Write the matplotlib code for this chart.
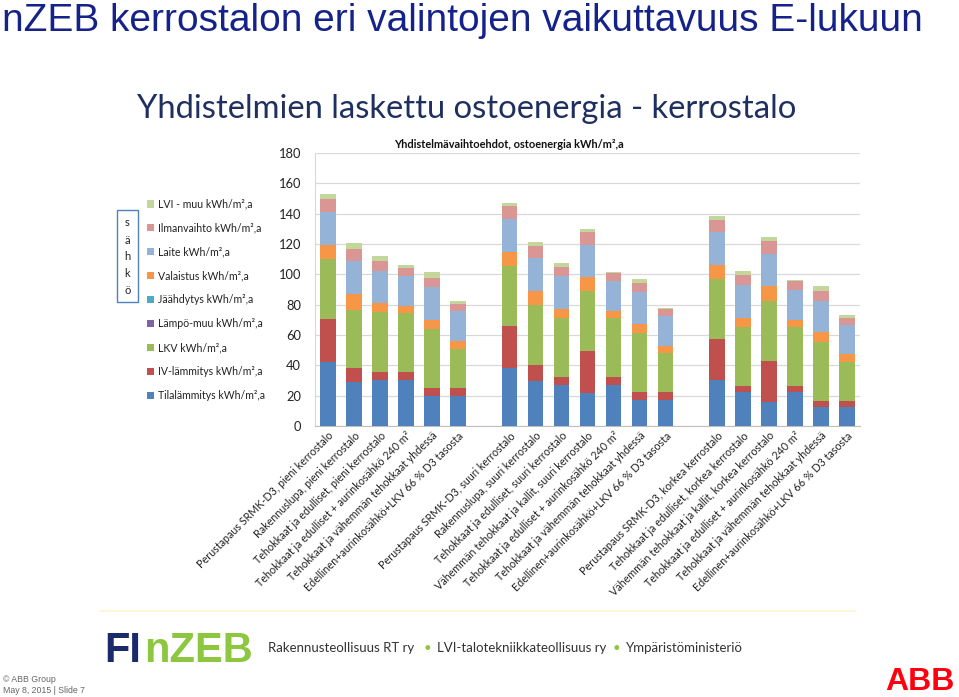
import matplotlib
matplotlib.use("Agg")
import matplotlib.pyplot as plt
import numpy as np
from matplotlib.patches import Rectangle

# --- data (kWh/m2,a), 21 category slots, blank slots separate the three groups
categories = [
    "Perustapaus SRMK-D3, pieni kerrostalo",
    "Rakennuslupa, pieni kerrostalo",
    "Tehokkaat ja edulliset, pieni kerrostalo",
    "Tehokkaat ja edulliset + aurinkosähkö 240 m²",
    "Tehokkaat ja vähemmän tehokkaat yhdessä",
    "Edellinen+aurinkosähkö+LKV 66 % D3 tasosta",
    "",
    "Perustapaus SRMK-D3, suuri kerrostalo",
    "Rakennuslupa, suuri kerrostalo",
    "Tehokkaat ja edulliset, suuri kerrostalo",
    "Vähemmän tehokkaat ja kallit, suuri kerrostalo",
    "Tehokkaat ja edulliset + aurinkosähkö 240 m²",
    "Tehokkaat ja vähemmän tehokkaat yhdessä",
    "Edellinen+aurinkosähkö+LKV 66 % D3 tasosta",
    "",
    "Perustapaus SRMK-D3, korkea kerrostalo",
    "Tehokkaat ja edulliset, korkea kerrostalo",
    "Vähemmän tehokkaat ja kallit, korkea kerrostalo",
    "Tehokkaat ja edulliset + aurinkosähkö 240 m²",
    "Tehokkaat ja vähemmän tehokkaat yhdessä",
    "Edellinen+aurinkosähkö+LKV 66 % D3 tasosta",
]

tilalammitys = [42, 29.3, 30.6, 30.4, 20, 20, 0,
                38.5, 29.9, 27, 21.6, 27, 17.2, 17.2, 0,
                30.4, 22.7, 16, 22.7, 12.8, 12.8]
iv_lammitys = [28.6, 9, 5, 5.2, 4.9, 4.9, 0,
               27.7, 10.4, 5.1, 27.9, 5.1, 5, 5, 0,
               26.8, 3.7, 27.1, 3.7, 3.9, 3.9]
lkv = [39.4, 38.3, 39.4, 39.2, 39.3, 26.1, 0,
       39.6, 39.6, 39.4, 39.2, 38.9, 39, 26.2, 0,
       39.6, 39.2, 39.6, 39.2, 39, 25.8]
lampo_muu = [0] * 21
jaahdytys = [0] * 21
valaistus = [9.5, 10.3, 6, 4.6, 5.8, 5, 0,
             9.2, 9.4, 5.5, 9.4, 4.9, 6.1, 4.6, 0,
             9.5, 5.9, 9.3, 4.4, 6.6, 4.8]
laite = [21.3, 21.6, 20.9, 19.8, 21.7, 19.5, 0,
         21.6, 21.4, 21.6, 21.4, 19.4, 20.9, 19.2, 0,
         21.3, 21.5, 21.3, 19.8, 20.4, 19.4]
ilmanvaihto = [8.8, 8.1, 6.6, 4.8, 6.2, 5, 0,
               8.2, 8.1, 6.1, 8.1, 5.5, 6, 5, 0,
               8.4, 6.7, 8.4, 5.5, 6.6, 4.8]
lvi_muu = [3.4, 4, 3.5, 2.3, 3.5, 1.8, 0,
           2.2, 2.4, 2.5, 2.4, 0.8, 2.8, 0.8, 0,
           2.6, 2.2, 2.8, 0.7, 3.1, 1.8]

series = [
    ("Tilalämmitys kWh/m²,a", tilalammitys, "#4f81bd"),
    ("IV-lämmitys kWh/m²,a", iv_lammitys, "#c0504d"),
    ("LKV kWh/m²,a", lkv, "#9bbb59"),
    ("Lämpö-muu kWh/m²,a", lampo_muu, "#8064a2"),
    ("Jäähdytys kWh/m²,a", jaahdytys, "#4bacc6"),
    ("Valaistus kWh/m²,a", valaistus, "#f79646"),
    ("Laite kWh/m²,a", laite, "#95b3d7"),
    ("Ilmanvaihto kWh/m²,a", ilmanvaihto, "#d99694"),
    ("LVI - muu kWh/m²,a", lvi_muu, "#c3d69b"),
]

W, H = 959, 697
fig = plt.figure(figsize=(W / 100, H / 100), dpi=100)
fig.patch.set_facecolor("white")

chart_font = "Lato"

# slide title
fig.text(2 / W, 1 - 31 / H, "nZEB kerrostalon eri valintojen vaikuttavuus E-lukuun",
         fontsize=28, color="#14228a", family="Liberation Sans", va="baseline")
fig.text(137 / W, 1 - 118 / H, "Yhdistelmien laskettu ostoenergia - kerrostalo",
         fontsize=23.6, color="#1f3060", family=chart_font, va="baseline")

# chart area
ax = fig.add_axes([315 / W, (H - 426) / H, 545 / W, 273 / H])
x = np.arange(len(categories))
bottom = np.zeros(len(categories))
for name, vals, col in series:
    vals = np.array(vals, dtype=float)
    ax.bar(x, vals, 0.6, bottom=bottom, color=col, label=name, zorder=3)
    bottom += vals

ax.set_xlim(-0.5, len(categories) - 0.5)
ax.set_ylim(0, 180)
ax.set_yticks(np.arange(0, 181, 20))
ax.yaxis.grid(True, color="#d9d9d9", linewidth=0.9, zorder=0)
ax.tick_params(axis="y", length=0, labelsize=9.3, labelcolor="#222222", pad=10)
ax.tick_params(axis="x", length=0, pad=3)
for lab in ax.get_yticklabels():
    lab.set_family(chart_font)
ax.set_xticks(x)
ax.set_xticklabels(categories, rotation=45, ha="right", rotation_mode="anchor",
                   fontsize=7.75, family=chart_font, color="#222222")
for s in ["top", "right"]:
    ax.spines[s].set_visible(False)
ax.spines["left"].set_color("#d9d9d9")
ax.spines["bottom"].set_color("#bfbfbf")
fig.text(509 / W, 1 - 145 / H, "Yhdistelmävaihtoehdot, ostoenergia kWh/m²,a",
         fontsize=7.9, fontweight="bold", family=chart_font, color="#111111",
         ha="center", va="center")

# legend, top entry first
handles, labels = ax.get_legend_handles_labels()
leg = fig.legend(handles[::-1], labels[::-1], loc="upper left",
                 bbox_to_anchor=(137 / W, 1 - 189 / H), frameon=False,
                 prop={"family": chart_font, "size": 7.6}, handlelength=0.7,
                 handleheight=0.7, handletextpad=0.4, labelspacing=1.23,
                 labelcolor="#222222")

# "sähkö" box
fig.patches.append(Rectangle((117 / W, 1 - 302 / H), 21 / W, 92 / H,
                             transform=fig.transFigure, fill=False,
                             edgecolor="#4f81bd", linewidth=1.0))
for i, ch in enumerate("sähkö"):
    fig.text(127.5 / W, 1 - (223 + i * 17) / H, ch, ha="center", va="center",
             fontsize=8, family=chart_font, color="#222222")

# footer
fig.add_artist(plt.Line2D([100 / W, 855 / W], [1 - 611 / H, 1 - 611 / H],
                          color="#fbf6cf", linewidth=1.2, transform=fig.transFigure))
fig.text(104 / W, 1 - 662 / H, "FI", fontsize=30, fontweight="bold",
         family="Liberation Sans", color="#1b2a6b", va="baseline")
fig.text(144 / W, 1 - 662 / H, "nZEB", fontsize=30, fontweight="bold",
         family="Liberation Sans", color="#8dc63f", va="baseline")
fig.text(268 / W, 1 - 652 / H, "Rakennusteollisuus RT ry", fontsize=9.5,
         family=chart_font, color="#333333", va="baseline")
fig.text(424 / W, 1 - 652 / H, "•", fontsize=9.5, family=chart_font,
         color="#8dc63f", va="baseline")
fig.text(437 / W, 1 - 652 / H, "LVI-talotekniikkateollisuus ry", fontsize=9.5,
         family=chart_font, color="#333333", va="baseline")
fig.text(613 / W, 1 - 652 / H, "•", fontsize=9.5, family=chart_font,
         color="#8dc63f", va="baseline")
fig.text(626 / W, 1 - 652 / H, "Ympäristöministeriö", fontsize=9.5,
         family=chart_font, color="#333333", va="baseline")

fig.text(3 / W, 1 - 682 / H, "© ABB Group", fontsize=6.3,
         family="Liberation Sans", color="#666666", va="baseline")
fig.text(3 / W, 1 - 693 / H, "May 8, 2015 | Slide 7", fontsize=6.3,
         family="Liberation Sans", color="#666666", va="baseline")
fig.text(955 / W, 1 - 690 / H, "ABB", fontsize=23, fontweight="bold",
         family="Liberation Sans", color="#ff000f", ha="right", va="baseline")

fig.savefig("out.png", dpi=100, facecolor="white")
